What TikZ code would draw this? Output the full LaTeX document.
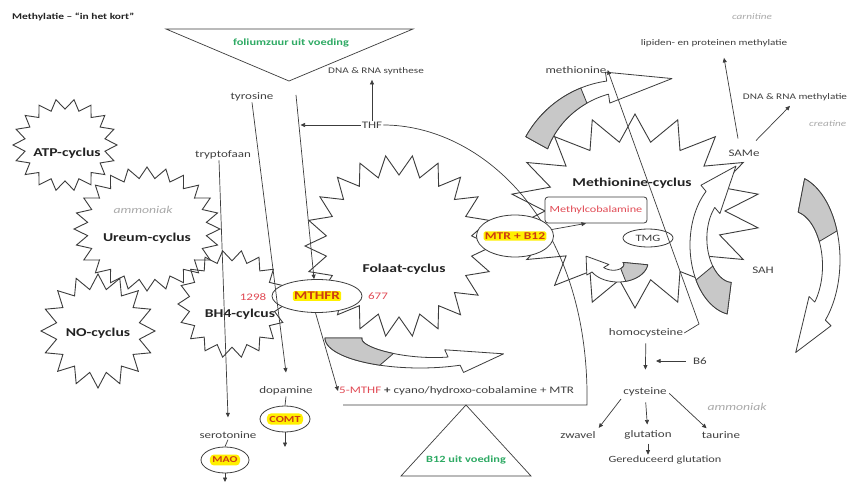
\documentclass[tikz,border=0pt]{standalone}
\usepackage{fontspec}
\setmainfont{Carlito}[FakeStretch=1.3]
\usetikzlibrary{shapes.geometric,arrows.meta}
\definecolor{lc}{RGB}{60,60,60}
\definecolor{txt}{RGB}{64,64,64}
\definecolor{dk}{RGB}{35,35,35}
\definecolor{grn}{RGB}{46,170,100}
\definecolor{rd}{RGB}{225,75,85}
\definecolor{hlr}{RGB}{205,60,20}
\definecolor{hly}{RGB}{255,240,0}
\definecolor{gtxt}{RGB}{170,170,170}
\definecolor{tailg}{RGB}{200,200,200}

\newcommand\starp[7]{%
  \pgfmathtruncatemacro\spn{2*#6+1}%
  \draw[starline] plot[domain=0:360,samples=\spn,variable=\t]
    ({#1+#3*(1-(1-#5)*mod(round(\t*#6/180),2))*cos(\t+#7)},
     {#2+#4*(1-(1-#5)*mod(round(\t*#6/180),2))*sin(\t+#7)}) -- cycle;}

% curved block arrow: cx cy rxo ryo rxi ryi tail-angle head-angle gray-end
\newcommand\carrow[9]{%
  \pgfmathsetmacro\csg{ifthenelse(#8>#7,1,-1)}%
  \pgfmathsetmacro\ctx{-\csg*#3*sin(#8)}%
  \pgfmathsetmacro\cty{\csg*#4*cos(#8)}%
  \pgfmathsetmacro\ctn{sqrt(\ctx*\ctx+\cty*\cty)}%
  \pgfmathsetmacro\cix{\ck*#3}\pgfmathsetmacro\ciy{\ck*#4}%
  \pgfmathsetmacro\ctipx{#1+0.5*(#3+\cix)*cos(#8)+\chl*\ctx/\ctn}%
  \pgfmathsetmacro\ctipy{#2+0.5*(#4+\ciy)*sin(#8)+\chl*\cty/\ctn}%
  \pgfmathsetmacro\cbox{#1+(#3+\cw)*cos(#8)}%
  \pgfmathsetmacro\cboy{#2+(#4+\cw)*sin(#8)}%
  \pgfmathsetmacro\cbix{#1+(\cix-\cw)*cos(#8)}%
  \pgfmathsetmacro\cbiy{#2+(\ciy-\cw)*sin(#8)}%
  \filldraw[blockline,fill=white] plot[domain=#7:#8,samples=40,variable=\t]({#1+#3*cos(\t)},{#2+#4*sin(\t)})
    -- (\cbox,\cboy) -- (\ctipx,\ctipy) -- (\cbix,\cbiy)
    -- plot[domain=#8:#7,samples=40,variable=\t]({#1+(#5+(\cix-#5)*(\t-#7)/(#8-#7))*cos(\t)},{#2+(#6+(\ciy-#6)*(\t-#7)/(#8-#7))*sin(\t)}) -- cycle;
  \filldraw[blockline,fill=tailg] plot[domain=#7:#9,samples=20,variable=\t]({#1+#3*cos(\t)},{#2+#4*sin(\t)})
    -- plot[domain=#9:#7,samples=20,variable=\t]({#1+(#5+(\cix-#5)*(\t-#7)/(#8-#7))*cos(\t)},{#2+(#6+(\ciy-#6)*(\t-#7)/(#8-#7))*sin(\t)}) -- cycle;
}

\tikzset{
  lab/.style={text=txt, font=\fontsize{10}{12}\selectfont, inner sep=1pt},
  sml/.style={text=txt, font=\fontsize{8.6}{10}\selectfont, inner sep=1pt},
  cyc/.style={text=dk, font=\bfseries\fontsize{12}{14}\selectfont, inner sep=1pt},
  grnt/.style={text=grn, font=\bfseries\fontsize{9.5}{11}\selectfont, inner sep=1pt},
  gita/.style={text=gtxt, font=\itshape\fontsize{10.5}{12}\selectfont, inner sep=1pt},
  gits/.style={text=gtxt, font=\itshape\fontsize{8.6}{10}\selectfont, inner sep=1pt},
  rdn/.style={text=rd, font=\fontsize{10}{12}\selectfont, inner sep=1pt},
  hil/.style={fill=hly, text=hlr, font=\bfseries\fontsize{10.4}{12}\selectfont, inner sep=1.2pt, rounded corners=1.5pt},
  ell/.style={ellipse, draw=lc, fill=white, line width=0.8pt, inner sep=0pt},
  arr/.style={draw=lc, line width=0.7pt, -{Triangle[length=4.5pt,width=4pt]}},
  ln/.style={draw=lc, line width=0.7pt},
  starline/.style={draw=lc, line width=0.9pt, line join=miter},
  blockline/.style={draw=lc, line width=0.8pt, line join=round},
}

\begin{document}
\begin{tikzpicture}[x=1pt,y=-1pt]
\fill[white] (0,0) rectangle (849,484);
\useasboundingbox (0,0) rectangle (849,484);

% cycles (stars)
\starp{65}{145}{52}{46}{0.78}{18}{0}
\starp{147}{229}{73}{62}{0.82}{24}{0}
\starp{98}{331}{57}{57}{0.74}{16}{0}
\starp{232}{304}{54}{54}{0.8}{18}{0}
\starp{399}{246}{94}{91}{0.78}{22}{0}
\starp{635}{211}{125}{97}{0.72}{18}{10}

% curved block arrows
\def\chl{65}\def\cw{9}\def\ck{0.88}
\carrow{622}{190}{110}{110}{85}{85}{209}{262}{248}
\def\chl{50}\def\cw{8}\def\ck{0.7}
\carrow{420}{338}{95}{30}{58}{12}{180}{65}{115}
\def\chl{18}\def\cw{6}\def\ck{0.55}
\carrow{618}{262}{30}{20}{5}{3}{8}{150}{75}
\def\chl{42}\def\cw{8}\def\ck{0.7}
\carrow{735}{245}{45}{70}{22}{38}{100}{230}{150}
\def\chl{48}\def\cw{8}\def\ck{0.7}
\carrow{790}{260}{50}{85}{28}{50}{287}{405}{340}

% triangles
\draw[ln] (166,29) -- (413,29) -- (289,81) -- cycle;
\coordinate (b12a) at (466,405);
\draw[ln] (b12a) -- (531,476) -- (401,476) -- cycle;

% THF and its arc
\node[lab] (thf) at (372,125) {THF};
\coordinate (arcc) at (587,405);
\coordinate (arce) at (343,405);
\draw[ln] (thf.east) .. controls (480,125) and (590,220) .. (arcc) -- (arce);

% texts
\node[anchor=west, text=dk, font=\bfseries\fontsize{8.8}{10}\selectfont, inner sep=0pt] (title) at (12,17) {Methylatie – “in het kort”};
\node[grnt] (fz) at (291,43) {foliumzuur uit voeding};
\node[sml] (dnas) at (376,71) {DNA \& RNA synthese};
\node[lab] (tyr) at (252,97) {tyrosine};
\node[lab] (tryp) at (223,155) {tryptofaan};
\node[cyc] (atp) at (67,153) {ATP-cyclus};
\node[gita] (amm1) at (143,210) {ammoniak};
\node[cyc] (ureum) at (147,238) {Ureum-cyclus};
\node[cyc] (nocyc) at (98,333) {NO-cyclus};
\node[cyc] (bh4) at (240,314) {BH4-cylcus};
\node[cyc] (folaat) at (404,269) {Folaat-cyclus};
\node[cyc] (methcyc) at (632,183) {Methionine-cyclus};

\node[ell, minimum width=90pt, minimum height=33pt] (mthfr) at (317,296) {};
\node[hil, font=\bfseries\fontsize{11.7}{13}\selectfont] (mthfrt) at (mthfr) {MTHFR};
\node[rdn] (n1298) at (253,297) {1298};
\node[rdn] (n677) at (378,296) {677};

\node[ell, minimum width=77pt, minimum height=42pt] (mtr) at (515,236) {};
\node[hil] (mtrt) at (mtr) {MTR + B12};

\node[draw=lc, fill=white, line width=0.8pt, rounded corners=3pt, minimum width=102pt, minimum height=26pt, text=rd, font=\fontsize{9.4}{11}\selectfont] (mcb) at (596,210) {Methylcobalamine};
\node[ell, minimum width=50pt, minimum height=18pt, text=txt, font=\fontsize{9.7}{11}\selectfont] (tmg) at (648,238) {TMG};

\node[anchor=west, text=txt, font=\fontsize{10}{12}\selectfont, inner sep=1pt] (mthfl) at (338,391) {{\color{rd}5-MTHF} \textbf{+} cyano/hydroxo-cobalamine + MTR};
\node[grnt] (b12) at (466,460) {B12 uit voeding};

\node[lab] (dop) at (286,391) {dopamine};
\node[ell, minimum width=50pt, minimum height=26pt] (comt) at (285,419) {};
\node[hil, font=\bfseries\fontsize{9.3}{11}\selectfont, inner sep=2.5pt, rounded corners=4pt] (comtt) at (comt) {COMT};
\node[lab] (ser) at (228,435) {serotonine};
\node[ell, minimum width=48pt, minimum height=26pt] (mao) at (225,460) {};
\node[hil, font=\bfseries\fontsize{9}{11}\selectfont, inner sep=2.5pt, rounded corners=4pt] (maot) at (mao) {MAO};

\node[lab] (meth) at (576,70) {methionine};
\node[sml] (lip) at (714,43) {lipiden- en proteinen methylatie};
\node[gits] (carn) at (752,17) {carnitine};
\node[sml] (dnam) at (795,97) {DNA \& RNA methylatie};
\node[gits, anchor=west] (creat) at (808,124) {creatine};
\node[lab] (same) at (744,153) {SAMe};
\node[lab] (sah) at (763,270) {SAH};

\node[lab] (homoc) at (646,333) {homocysteine};
\node[lab] (b6) at (700,361) {B6};
\node[lab] (cyst) at (645,392) {cysteine};
\node[lab] (zwavel) at (578,435) {zwavel};
\node[lab] (gluta) at (648,435) {glutation};
\node[lab] (taur) at (721,435) {taurine};
\node[gita] (amm2) at (737,407) {ammoniak};
\node[lab, font=\fontsize{9.5}{11}\selectfont] (gered) at (665,460) {Gereduceerd glutation};

% connectors
\coordinate (fzv) at (296,95);
\draw[arr] (fzv) -- (mthfr.100);
\coordinate (thfl) at (300.5,125);
\draw[arr] (thf.west) -- (thfl);
\draw[arr, shorten >=4pt] (thf.north) -- (thf.north |- dnas.south);
\draw[arr] (tyr.south) -- ([yshift=13pt]dop.north);
\draw[arr] ([xshift=-4pt]tryp.south) -- ([yshift=13pt]ser.north);
\draw[ln] (ser.south) -- (mao.north);
\coordinate (maoe) at (225,482);
\draw[arr] (mao.south) -- (maoe);
\draw[ln] (dop.south) -- (comt.north);
\coordinate (comte) at (285,447);
\draw[arr] (comt.south) -- (comte);
\draw[arr] (mthfr.265) -- (mthfl.west);
\draw[arr] (mtr.10) -- ([xshift=-10pt]mcb.south);
\coordinate (hk) at (699,324);
\draw[arr] (homoc.east) -- (hk) -- (meth.east);
\draw[arr] ([xshift=-6pt,yshift=10pt]same.north) -- ([xshift=10pt,yshift=-10pt]lip.south);
\draw[arr] ([xshift=12pt,yshift=8pt]same.north) -- ([xshift=-5pt,yshift=-4pt]dnam.south);
\draw[arr, shorten <=5pt, shorten >=17pt] (homoc) -- (cyst);
\coordinate (b6e) at (656,361);
\draw[arr] ([xshift=-6pt]b6.west) -- (b6e);
\draw[arr, shorten <=5pt, shorten >=5pt] (cyst) -- (gluta);
\draw[arr, shorten <=2pt, shorten >=3pt] (cyst.south west) -- (zwavel.north east);
\draw[arr, shorten <=2pt, shorten >=3pt] (cyst.east) -- ([xshift=8pt]taur.north west);
\draw[arr, shorten <=3pt] (gluta.south) -- (gluta.south |- gered.north);
\end{tikzpicture}
\end{document}
